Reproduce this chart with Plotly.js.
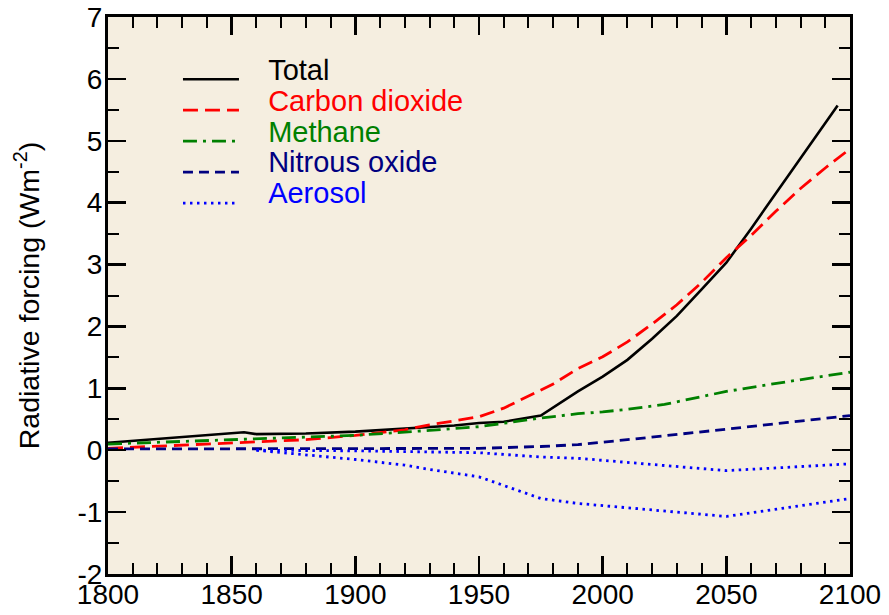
<!DOCTYPE html>
<html>
<head>
<meta charset="utf-8">
<script src="https://cdn.plot.ly/plotly-3.0.1.min.js"></script>
<style>html,body{margin:0;padding:0;background:#fff;}#chart{width:889px;height:615px;}</style>
</head>
<body>
<div id="chart"></div>
<script>
// ---- Data ----
const totalYears   = [1800, 1855, 1860, 1880, 1900, 1920, 1940, 1950, 1960, 1975, 1990, 2000, 2010, 2020, 2030, 2040, 2050, 2060, 2070, 2080, 2090, 2095];
const totalValues  = [0.12, 0.29, 0.26, 0.27, 0.30, 0.35, 0.40, 0.44, 0.46, 0.56, 0.95, 1.19, 1.46, 1.80, 2.17, 2.60, 3.03, 3.58, 4.15, 4.71, 5.28, 5.57];

const co2Years     = [1800, 1850, 1880, 1900, 1920, 1930, 1950, 1960, 1970, 1980, 1990, 2000, 2010, 2020, 2030, 2040, 2050, 2060, 2070, 2080, 2090, 2100];
const co2Values    = [0.03, 0.11, 0.17, 0.24, 0.33, 0.41, 0.54, 0.68, 0.87, 1.07, 1.32, 1.51, 1.75, 2.04, 2.35, 2.71, 3.11, 3.47, 3.86, 4.23, 4.56, 4.87];

const ch4Years     = [1800, 1850, 1900, 1930, 1950, 1975, 1990, 2000, 2010, 2025, 2050, 2075, 2100];
const ch4Values    = [0.10, 0.17, 0.24, 0.32, 0.38, 0.52, 0.59, 0.62, 0.66, 0.74, 0.95, 1.11, 1.26];

const n2oYears     = [1800, 1900, 1950, 1975, 1990, 2010, 2030, 2050, 2075, 2100];
const n2oValues    = [0.02, 0.02, 0.03, 0.06, 0.09, 0.17, 0.26, 0.34, 0.45, 0.56];

const aerosolAYears  = [1860, 1900, 1950, 1975, 1990, 2010, 2050, 2100];
const aerosolAValues = [0.00, -0.01, -0.04, -0.11, -0.13, -0.20, -0.33, -0.22];

const aerosolBYears  = [1860, 1880, 1900, 1920, 1930, 1950, 1975, 1990, 2010, 2050, 2100];
const aerosolBValues = [0.00, -0.07, -0.15, -0.24, -0.31, -0.43, -0.78, -0.86, -0.93, -1.07, -0.78];

const seriesNames  = ['Total', 'Carbon dioxide', 'Methane', 'Nitrous oxide', 'Aerosol'];
const seriesColors = ['#000000', '#ff0000', '#008000', '#000080', '#0000ff'];

const xTickVals = [1800, 1850, 1900, 1950, 2000, 2050, 2100];
const xTickText = ['1800', '1850', '1900', '1950', '2000', '2050', '2100'];
const yTickVals = [-2, -1, 0, 1, 2, 3, 4, 5, 6, 7];
const yTickText = ['-2', '-1', '0', '1', '2', '3', '4', '5', '6', '7'];

// ---- Chart ----
function legendName(i) {
  return '<span style="color:' + seriesColors[i] + ';font-size:29px;baseline-shift:8px">\u00a0\u00a0\u00a0' + seriesNames[i] + '</span>';
}

const traces = [
  {x: totalYears, y: totalValues, name: legendName(0), mode: 'lines',
   line: {color: seriesColors[0], width: 2.6}},
  {x: co2Years, y: co2Values, name: legendName(1), mode: 'lines',
   line: {color: seriesColors[1], width: 2.8, dash: '15px,7px'}},
  {x: ch4Years, y: ch4Values, name: legendName(2), mode: 'lines',
   line: {color: seriesColors[2], width: 2.8, dash: '14px,6px,3px,6px'}},
  {x: n2oYears, y: n2oValues, name: legendName(3), mode: 'lines',
   line: {color: seriesColors[3], width: 2.8, dash: '10px,6px'}},
  {x: aerosolAYears, y: aerosolAValues, name: legendName(4), mode: 'lines', legendgroup: 'aer',
   line: {color: seriesColors[4], width: 2.8, dash: '2.5px,4.5px'}},
  {x: aerosolBYears, y: aerosolBValues, name: legendName(4), mode: 'lines', legendgroup: 'aer', showlegend: false,
   line: {color: seriesColors[4], width: 2.8, dash: '2.5px,4.5px'}}
];

const axisCommon = {
  showgrid: false, zeroline: false, showline: true, linecolor: '#000', linewidth: 3,
  mirror: 'allticks', ticks: 'inside', ticklen: 18, tickwidth: 2.5, tickcolor: '#000',
  tickfont: {family: 'Liberation Sans, Arial, sans-serif', size: 28, color: '#000'}
};

const layout = {
  width: 889, height: 615,
  margin: {l: 108, r: 39, t: 17, b: 41, pad: 0},
  paper_bgcolor: '#ffffff',
  plot_bgcolor: 'rgb(245,238,224)',
  font: {family: 'Liberation Sans, Arial, sans-serif', color: '#000'},
  showlegend: true,
  legend: {
    x: 0.0943, y: 0.925, xanchor: 'left', yanchor: 'top',
    bgcolor: 'rgba(0,0,0,0)', borderwidth: 0,
    itemwidth: 56, font: {size: 21.5, family: 'Liberation Sans, Arial, sans-serif'},
    traceorder: 'normal', tracegroupgap: 0
  },
  xaxis: Object.assign({}, axisCommon, {
    range: [1800, 2100], tickmode: 'array', tickvals: xTickVals, ticktext: xTickText,
    ticklabelstandoff: -7,
    minor: {dtick: 10, tick0: 1800, ticks: 'inside', ticklen: 11, tickwidth: 2, tickcolor: '#000', showgrid: false}
  }),
  yaxis: Object.assign({}, axisCommon, {
    range: [-2, 7], tickmode: 'array', tickvals: yTickVals, ticktext: yTickText,
    ticklabelstandoff: -3,
    minor: {dtick: 0.5, tick0: 0, ticks: 'inside', ticklen: 11, tickwidth: 2, tickcolor: '#000', showgrid: false},
    title: {text: 'Radiative forcing (Wm<sup>-2</sup>)', font: {size: 28.5, family: 'Liberation Sans, Arial, sans-serif'}, standoff: 30}
  })
};

Plotly.newPlot('chart', traces, layout, {displayModeBar: false, staticPlot: true});
</script>
</body>
</html>
